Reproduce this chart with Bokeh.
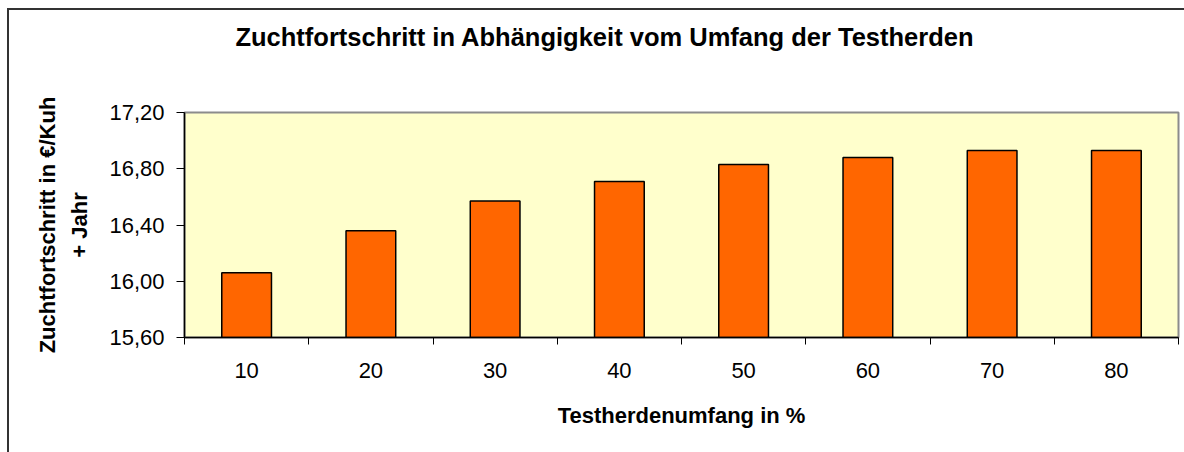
from bokeh.plotting import figure
from bokeh.models import ColumnDataSource, FixedTicker, Range1d, Div
from bokeh.layouts import column
from bokeh.embed import file_html
from bokeh.resources import INLINE

# Data
categories = ["10", "20", "30", "40", "50", "60", "70", "80"]
values = [16.06, 16.36, 16.57, 16.71, 16.83, 16.88, 16.93, 16.93]
y_ticks = [15.6, 16.0, 16.4, 16.8, 17.2]
y_tick_labels = ["15,60", "16,00", "16,40", "16,80", "17,20"]
title_text = "Zuchtfortschritt in Abhängigkeit vom Umfang der Testherden"
x_label = "Testherdenumfang in %"
y_label = "Zuchtfortschritt in €/Kuh\n+ Jahr"

FONT = "Liberation Sans"

centers = [i + 0.5 for i in range(len(categories))]
boundaries = list(range(len(categories) + 1))
src = ColumnDataSource(dict(x=centers, top=values, cat=categories))

TITLE_H = 56

title_div = Div(text=title_text, width=1175, height=TITLE_H,
                styles={"font-family": FONT, "font-size": "25.5px", "font-weight": "bold",
                        "color": "black", "text-align": "center",
                        "line-height": "44px", "padding-left": "6px",
                        "box-sizing": "border-box", "white-space": "nowrap"})

p = figure(width=1175, height=442 - TITLE_H - 10, output_backend="svg", toolbar_location=None,
           x_range=Range1d(0, len(categories)), y_range=Range1d(y_ticks[0], y_ticks[-1]),
           min_border_left=175, min_border_right=6, min_border_top=102 - TITLE_H - 10,
           min_border_bottom=115)

p.vbar(x="x", top="top", bottom=y_ticks[0], width=0.4, source=src,
       fill_color="#FF6600", line_color="black", line_width=1.5)

p.background_fill_color = "#FFFFCC"
p.border_fill_color = "white"
p.outline_line_color = "#8c8c8c"
p.outline_line_width = 2
p.xgrid.visible = False
p.ygrid.visible = False

# X axis
xa = p.xaxis[0]
xa.ticker = FixedTicker(ticks=centers, minor_ticks=boundaries)
xa.major_label_overrides = {c: lab for c, lab in zip(centers, categories)}
xa.major_tick_in = 0
xa.major_tick_out = 0
xa.minor_tick_in = 0
xa.minor_tick_out = 7
xa.minor_tick_line_color = "black"
xa.minor_tick_line_width = 1
xa.axis_line_color = "black"
xa.axis_line_width = 1.5
xa.major_label_text_font = FONT
xa.major_label_text_font_size = "22px"
xa.major_label_text_color = "black"
xa.major_label_standoff = 18
xa.axis_label = x_label
xa.axis_label_text_font = FONT
xa.axis_label_text_font_size = "22px"
xa.axis_label_text_font_style = "bold"
xa.axis_label_text_color = "black"
xa.axis_label_standoff = 22

# Y axis
ya = p.yaxis[0]
ya.ticker = FixedTicker(ticks=y_ticks, minor_ticks=[])
ya.major_label_overrides = {t: lab for t, lab in zip(y_ticks, y_tick_labels)}
ya.major_tick_in = 0
ya.major_tick_out = 8
ya.major_tick_line_color = "black"
ya.axis_line_color = "black"
ya.axis_line_width = 1.5
ya.major_label_text_font = FONT
ya.major_label_text_font_size = "22px"
ya.major_label_text_color = "black"
ya.major_label_standoff = 12
ya.axis_label = y_label
ya.axis_label_text_font = FONT
ya.axis_label_text_font_size = "22px"
ya.axis_label_text_font_style = "bold"
ya.axis_label_text_color = "black"
ya.axis_label_text_line_height = 1.3
ya.axis_label_standoff = 14

layout = column(title_div, p, spacing=0,
                styles={"border-left": "2px solid #333333", "border-top": "2px solid #333333",
                        "margin-left": "7px", "margin-top": "8px", "background": "white"})

open("out.html", "w").write(file_html(layout, INLINE))
